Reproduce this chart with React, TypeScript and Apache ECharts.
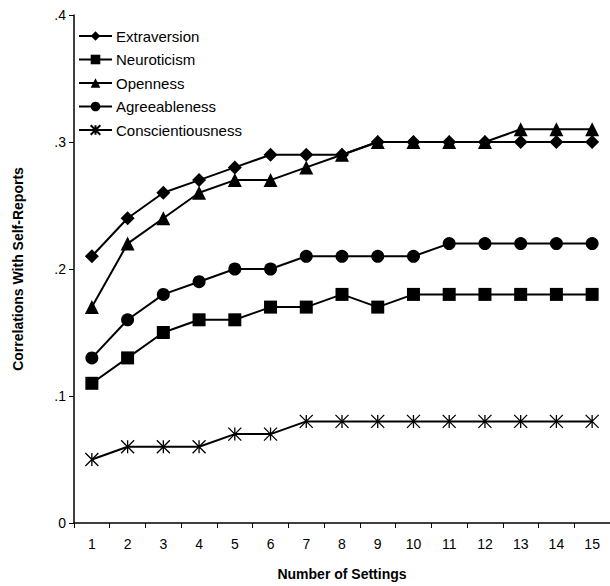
import React, { useEffect, useRef } from "react";
import * as echarts from "echarts";

const settings = ["1", "2", "3", "4", "5", "6", "7", "8", "9", "10", "11", "12", "13", "14", "15"];
const extraversion = [0.21, 0.24, 0.26, 0.27, 0.28, 0.29, 0.29, 0.29, 0.3, 0.3, 0.3, 0.3, 0.3, 0.3, 0.3];
const neuroticism = [0.11, 0.13, 0.15, 0.16, 0.16, 0.17, 0.17, 0.18, 0.17, 0.18, 0.18, 0.18, 0.18, 0.18, 0.18];
const openness = [0.17, 0.22, 0.24, 0.26, 0.27, 0.27, 0.28, 0.29, 0.3, 0.3, 0.3, 0.3, 0.31, 0.31, 0.31];
const agreeableness = [0.13, 0.16, 0.18, 0.19, 0.2, 0.2, 0.21, 0.21, 0.21, 0.21, 0.22, 0.22, 0.22, 0.22, 0.22];
const conscientiousness = [0.05, 0.06, 0.06, 0.06, 0.07, 0.07, 0.08, 0.08, 0.08, 0.08, 0.08, 0.08, 0.08, 0.08, 0.08];
const yTickLabels: Record<string, string> = { "0": "0", "0.1": ".1", "0.2": ".2", "0.3": ".3", "0.4": ".4" };

const FONT = "'Liberation Sans', Arial, sans-serif";
const asterisk = "path://M0,0L10,10M10,0L0,10M5,0L5,10";

export default function App() {
  const ref = useRef<HTMLDivElement>(null);
  useEffect(() => {
    document.body.style.margin = "0";
    const chart = echarts.init(ref.current!, null, { renderer: "svg" });
    const mk = (name: string, data: number[], symbol: string, size: number, extra: any = {}) => ({
      name,
      type: "line",
      data,
      symbol,
      symbolSize: size,
      lineStyle: { color: "#000", width: 2 },
      itemStyle: { color: "#000", borderColor: "#000", borderWidth: 0, ...extra },
      emphasis: { disabled: true },
    });
    chart.setOption({
      animation: false,
      backgroundColor: "#fff",
      textStyle: { fontFamily: FONT },
      grid: { left: 74, right: 0, top: 15, bottom: 63, containLabel: false },
      legend: {
        orient: "vertical",
        left: 78,
        top: 27.5,
        itemWidth: 33,
        itemHeight: 12,
        itemGap: 6.5,
        padding: [0, 0, 0, 0],
        textStyle: { fontFamily: FONT, fontSize: 15, color: "#000", padding: [0, 0, 0, -1], lineHeight: 17 },
        data: ["Extraversion", "Neuroticism", "Openness", "Agreeableness", "Conscientiousness"],
      },
      xAxis: {
        type: "category",
        data: settings,
        boundaryGap: true,
        name: "Number of Settings",
        nameLocation: "middle",
        nameGap: 44,
        nameTextStyle: { fontFamily: FONT, fontSize: 14, fontWeight: "bold", color: "#000" },
        axisLine: { lineStyle: { color: "#000", width: 1.5 } },
        axisTick: { show: true, length: 5, lineStyle: { color: "#000" } },
        axisLabel: { fontFamily: FONT, fontSize: 14, color: "#000", margin: 14 },
        splitLine: { show: false },
      },
      yAxis: {
        type: "value",
        min: 0,
        max: 0.4,
        interval: 0.1,
        name: "Correlations With Self-Reports",
        nameLocation: "middle",
        nameGap: 49,
        nameRotate: 90,
        nameTextStyle: { fontFamily: FONT, fontSize: 14, fontWeight: "bold", color: "#000" },
        axisLine: { show: true, lineStyle: { color: "#000", width: 1.5 } },
        axisTick: { show: true, length: 5, lineStyle: { color: "#000" } },
        axisLabel: {
          fontFamily: FONT,
          fontSize: 14,
          color: "#000",
          margin: 8,
          formatter: (v: number) => yTickLabels[String(Math.round(v * 10) / 10)] ?? String(v),
        },
        splitLine: { show: false },
      },
      series: [
        mk("Extraversion", extraversion, "diamond", 14),
        mk("Neuroticism", neuroticism, "rect", 13),
        mk("Openness", openness, "triangle", 14),
        mk("Agreeableness", agreeableness, "circle", 13),
        mk("Conscientiousness", conscientiousness, asterisk, 13, { color: "none", borderColor: "#000", borderWidth: 1.3 }),
      ],
    });
    return () => chart.dispose();
  }, []);
  return <div ref={ref} style={{ position: "fixed", left: 0, top: 0, width: 610, height: 586 }} />;
}
